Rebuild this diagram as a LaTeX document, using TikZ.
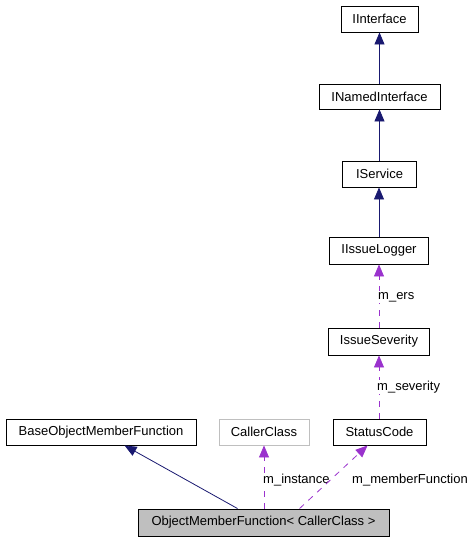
\documentclass[tikz,border=0pt]{standalone}
\usepackage{fontspec}
\setmainfont{Liberation Sans}
\usetikzlibrary{arrows.meta,calc}
\definecolor{inhcol}{HTML}{191970}
\definecolor{usecol}{HTML}{9A32CD}
\definecolor{grayfill}{HTML}{BFBFBF}
\begin{document}
\begin{tikzpicture}[x=1pt,y=-1pt,
  box/.style={draw=black,line width=0.9pt,inner sep=0pt,font=\fontsize{13}{15}\selectfont},
  inh/.style={draw=inhcol,line width=0.8pt,-{Triangle[length=12pt,width=10pt]},color=inhcol},
  use/.style={draw=usecol,line width=0.8pt,dash pattern=on 6pt off 6pt,-{Triangle[length=12pt,width=10pt]},color=usecol},
  lbl/.style={anchor=west,inner sep=1pt,fill=white,font=\fontsize{13}{15}\selectfont}]
\useasboundingbox (0,0) rectangle (476,541);
\node[box,minimum width=77pt,minimum height=26pt] (iint) at (379.5,19) {IInterface};
\node[box,minimum width=121pt,minimum height=25pt] (inamed) at (379.5,96.5) {INamedInterface};
\node[box,minimum width=74pt,minimum height=26pt] (iserv) at (379.5,174) {IService};
\node[box,minimum width=99pt,minimum height=27pt] (ilog) at (379,250.5) {IIssueLogger};
\node[box,minimum width=101pt,minimum height=27pt] (isev) at (379,341.5) {IssueSeverity};
\node[box,minimum width=190pt,minimum height=26pt] (base) at (101,432) {BaseObjectMemberFunction};
\node[box,draw=grayfill,minimum width=90pt,minimum height=26pt] (caller) at (264,432) {CallerClass};
\node[box,minimum width=93pt,minimum height=26pt] (status) at (379.5,432) {StatusCode};
\node[box,fill=grayfill,minimum width=251pt,minimum height=27pt] (obj) at (263.5,522.5) {ObjectMemberFunction< CallerClass >};

\draw[inh] (inamed.north) -- (iint.south);
\draw[inh] (iserv.north) -- (inamed.south);
\draw[inh] (ilog.north) -- (ilog.north |- iserv.south);

\draw[use] (isev.north) -- (ilog.south);
\node[lbl] (lers) at (377,297) {m\_ers};
\draw[use] (status.north -| isev.south) -- (isev.south);
\node[lbl] (lsev) at (376,387) {m\_severity};

\draw[inh] ($(obj.north west)+(100,0)$) -- ($(base.south west)+(119,0)$);
\draw[use] (obj.north -| caller.south) -- (caller.south);
\node[lbl] (linst) at (262,480) {m\_instance};
\draw[use] ($(obj.north west)+(162,0)$) -- ($(status.south west)+(35,0)$);
\node[lbl] (lmem) at (351,480) {m\_memberFunction};
\end{tikzpicture}
\end{document}
